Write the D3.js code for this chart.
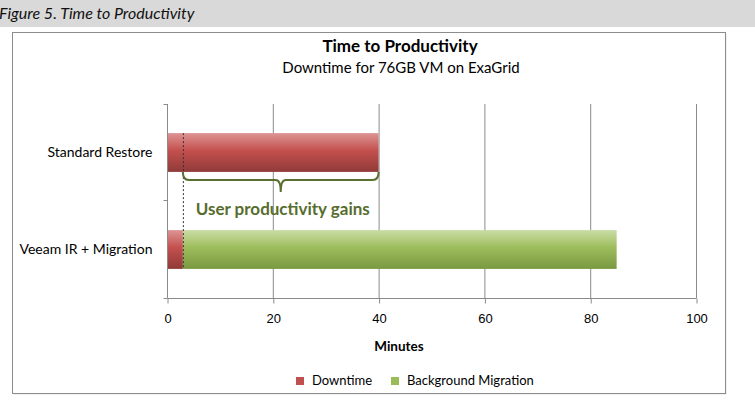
<!DOCTYPE html>
<html>
<head>
<meta charset="utf-8">
<script src="https://cdn.jsdelivr.net/npm/d3@7"></script>
<style>
  body { margin: 0; background: #fff; }
  svg { display: block; font-family: Lato, "Open Sans", sans-serif; }
</style>
</head>
<body>
<svg id="chart" width="755" height="403"></svg>
<script>
// chart data
var categories = ["Standard Restore", "Veeam IR + Migration"];
var downtime = [40, 3];
var migration = [0, 82];        // added after the downtime, so Veeam bar ends near 85
var seriesNames = ["Downtime", "Background Migration"];
var xTicks = [0, 20, 40, 60, 80, 100];
var gainFrom = 3, gainTo = 40;   // bracket span in minutes

var svg = d3.select("#chart");

// caption strip
svg.append("rect").attr("x", 0).attr("y", 0).attr("width", 755).attr("height", 27).attr("fill", "#d9d9d9");
svg.append("text").attr("x", -1).attr("y", 19)
  .style("font-style", "italic").style("font-size", "16px").attr("fill", "#111")
  .text("Figure 5. Time to Productivity");

// chart frame
svg.append("rect").attr("x", 13.5).attr("y", 33.5).attr("width", 713).attr("height", 361)
  .attr("fill", "#e4e4e4");
svg.append("rect").attr("x", 12.5).attr("y", 32.5).attr("width", 713).attr("height", 361)
  .attr("fill", "#fff").attr("stroke", "#8c8c8c");

// gradients
var defs = svg.append("defs");
function grad(id, stops) {
  var g = defs.append("linearGradient").attr("id", id).attr("x1", 0).attr("x2", 0).attr("y1", 0).attr("y2", 1);
  stops.forEach(function(s) { g.append("stop").attr("offset", s[0]).attr("stop-color", s[1]); });
}
grad("gRed", [[0, "#dc9594"], [0.45, "#c4504e"], [1, "#8f3a38"]]);
grad("gGreen", [[0, "#cadda6"], [0.45, "#9dbd5c"], [1, "#7a9840"]]);

var x = d3.scaleLinear().domain([0, 100]).range([167, 696]);
var y = d3.scaleBand().domain(categories).range([104, 298]).paddingInner(0.6).paddingOuter(0.3);

// gridlines
svg.append("g").selectAll("line").data(xTicks.slice(1)).enter().append("line")
  .attr("x1", function(d) { return x(d) + 0.5; }).attr("x2", function(d) { return x(d) + 0.5; })
  .attr("y1", 104).attr("y2", 298).attr("stroke", "#8a8a8a");

// x axis
var xAxis = svg.append("g").attr("transform", "translate(0.5,298.5)")
  .call(d3.axisBottom(x).tickValues(xTicks).tickSize(5).tickPadding(10));
xAxis.select(".domain").attr("stroke", "#8a8a8a").attr("d", "M" + x(0) + ",0H" + x(100));
xAxis.selectAll(".tick line").attr("stroke", "#8a8a8a");
xAxis.selectAll("text").style("font-size", "13px").attr("fill", "#000");

// y axis
var yAxis = svg.append("g").attr("transform", "translate(167.5,0)");
yAxis.append("line").attr("x1", 0).attr("x2", 0).attr("y1", 104).attr("y2", 298).attr("stroke", "#8a8a8a");
yAxis.selectAll(".yt").data([104, 200, 298]).enter().append("line")
  .attr("x1", -4).attr("x2", 0).attr("y1", function(d) { return d + 0.5; }).attr("y2", function(d) { return d + 0.5; })
  .attr("stroke", "#8a8a8a");
yAxis.selectAll("text").data(categories).enter().append("text")
  .attr("x", -15).attr("y", function(d) { return y(d) + y.bandwidth() / 2; })
  .attr("dy", "0.35em").attr("text-anchor", "end")
  .style("font-size", "14px").attr("fill", "#000").text(function(d) { return d; });

// bars
svg.append("g").selectAll("rect").data(categories).enter().append("rect")
  .attr("x", x(0) + 1).attr("y", function(d) { return y(d); })
  .attr("width", function(d, i) { return x(downtime[i]) - x(0) - 1; })
  .attr("height", y.bandwidth()).attr("fill", "url(#gRed)");
svg.append("g").selectAll("rect").data(categories).enter().append("rect")
  .attr("x", function(d, i) { return x(downtime[i]); }).attr("y", function(d) { return y(d); })
  .attr("width", function(d, i) { return x(downtime[i] + migration[i]) - x(downtime[i]); })
  .attr("height", y.bandwidth()).attr("fill", "url(#gGreen)");

// dashed marker line at Veeam downtime end
svg.append("line")
  .attr("x1", x(gainFrom) + 0.5).attr("x2", x(gainFrom) + 0.5)
  .attr("y1", y(categories[0])).attr("y2", y(categories[1]) + y.bandwidth())
  .attr("stroke", "#333").attr("stroke-dasharray", "2,2").attr("stroke-width", 1);

// bracket
var bTop = y(categories[0]) + y.bandwidth();
var bx0 = x(gainFrom), bx1 = x(gainTo), bm = (bx0 + bx1) / 2;
svg.append("path")
  .attr("d", "M" + bx0 + "," + bTop + " Q" + bx0 + "," + (bTop + 8) + " " + (bx0 + 6) + "," + (bTop + 8) +
    " L" + (bm - 5) + "," + (bTop + 8) + " Q" + bm + "," + (bTop + 8) + " " + bm + "," + (bTop + 20) +
    " Q" + bm + "," + (bTop + 8) + " " + (bm + 5) + "," + (bTop + 8) +
    " L" + (bx1 - 6) + "," + (bTop + 8) + " Q" + bx1 + "," + (bTop + 8) + " " + bx1 + "," + bTop)
  .attr("fill", "none").attr("stroke", "#5a7030").attr("stroke-width", 2);
svg.append("text").attr("x", (x(gainFrom) + x(gainTo)) / 2 + 2).attr("y", 215)
  .attr("text-anchor", "middle").style("font-size", "17px").style("font-weight", "bold")
  .attr("fill", "#566d2e").text("User productivity gains");

// titles
svg.append("text").attr("x", 400).attr("y", 52).attr("text-anchor", "middle")
  .style("font-size", "17px").style("font-weight", "bold").attr("fill", "#000").text("Time to Productivity");
svg.append("text").attr("x", 401).attr("y", 73).attr("text-anchor", "middle")
  .style("font-size", "15px").attr("fill", "#000").text("Downtime for 76GB VM on ExaGrid");
svg.append("text").attr("x", 399).attr("y", 351).attr("text-anchor", "middle")
  .style("font-size", "13.5px").style("font-weight", "bold").attr("fill", "#000").text("Minutes");

// legend
var legendX = [296, 391];
var legendFill = ["#c0504d", "#9bbb59"];
var lg = svg.append("g").selectAll("g").data(seriesNames).enter().append("g")
  .attr("transform", function(d, i) { return "translate(" + legendX[i] + ",377)"; });
lg.append("rect").attr("width", 8).attr("height", 8).attr("fill", function(d, i) { return legendFill[i]; });
lg.append("text").attr("x", 16).attr("y", 8).style("font-size", "13px").attr("fill", "#000")
  .text(function(d) { return d; });
</script>
</body>
</html>
